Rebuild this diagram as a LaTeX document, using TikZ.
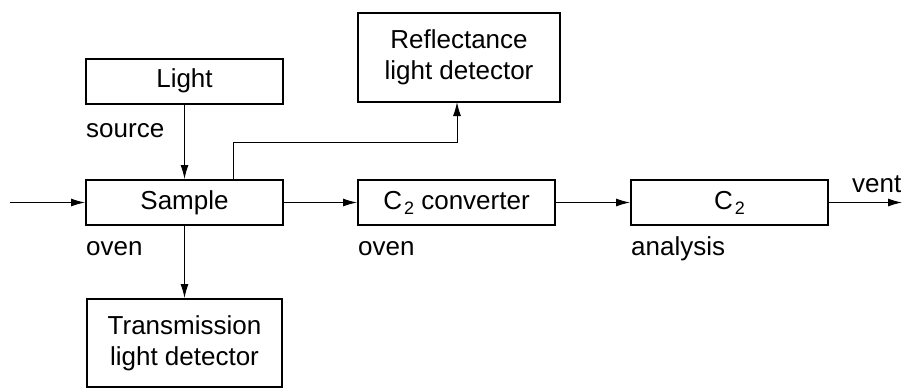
\documentclass[tikz,border=0pt]{standalone}
\usepackage{fontspec}
\setmainfont{Liberation Sans}
\usetikzlibrary{arrows.meta,calc}
\newcommand{\Csub}{C\kern2pt\raisebox{-5pt}{\fontsize{18}{18}\selectfont 2}}
\begin{document}
\begin{tikzpicture}[x=1pt,y=-1pt,
  every node/.style={font=\fontsize{26}{31}\selectfont, inner sep=0pt},
  unit/.style={draw, line width=2pt, minimum width=197pt, minimum height=45pt, align=center},
  flow/.style={line width=1pt, -{Latex[length=14pt,width=8pt]}},
  tag/.style={anchor=base west}]
  \useasboundingbox (0,0) rectangle (904,389);

  % process units
  \node[unit] (light) at (184.5,81) {Light};
  \node[unit, minimum width=202pt, minimum height=89pt] (refl) at (459,57.5) {Reflectance\\light detector};
  \node[unit] (sample) at (184.5,202.5) {Sample};
  \node[unit] (conv) at (456.5,202.5) {\Csub\ converter};
  \node[unit] (anal) at (729.5,202.5) {\Csub};
  \node[unit, minimum width=195pt, minimum height=88pt] (trans) at (184.5,343) {Transmission\\light detector};

  % labels under/over the units
  \node[tag] (lsource) at (86,137) {source};
  \node[tag] (loven1) at (86,255) {oven};
  \node[tag] (loven2) at (358,255) {oven};
  \node[tag] (lanal) at (631,255) {analysis};
  \node[tag] (lvent) at (852,192) {vent};

  % free ends of the gas line
  \coordinate (inlet) at (10,202.5);
  \coordinate (outlet) at (902,202.5);
  \coordinate (tap) at (233,180);
  \coordinate (rin) at (457,102);

  % connectors
  \draw[flow] (inlet) -- (sample.west);
  \draw[flow] (sample.east) -- (conv.west);
  \draw[flow] (conv.east) -- (anal.west);
  \draw[flow] (anal.east) -- (outlet);
  \draw[flow] (light.south) -- (sample.north);
  \draw[flow] (sample.south) -- (trans.north);
  \draw[flow] (tap) |- (457,142) -- (rin);
\end{tikzpicture}
\end{document}
